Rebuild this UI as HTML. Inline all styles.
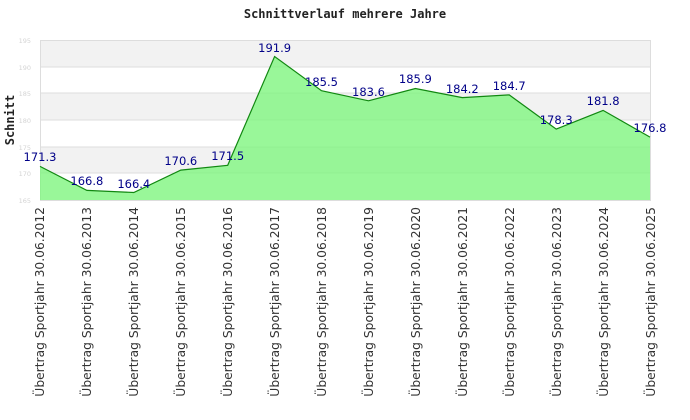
<!DOCTYPE html><html><head><style>body{margin:0;background:#fff}svg{display:block}</style></head><body>
<svg width="690" height="420" xmlns="http://www.w3.org/2000/svg">
<text x="345" y="18" text-anchor="middle" font-family="DejaVu Sans Mono, Liberation Mono, monospace" font-weight="bold" font-size="12" fill="#222">Schnittverlauf mehrere Jahre</text>
<rect x="40" y="40" width="610" height="27" fill="#f2f2f2"/>
<rect x="40" y="93" width="610" height="27" fill="#f2f2f2"/>
<rect x="40" y="147" width="610" height="26" fill="#f2f2f2"/>
<g stroke="#ddd" stroke-width="1">
<line x1="40" y1="67" x2="650" y2="67"/><line x1="40" y1="93" x2="650" y2="93"/><line x1="40" y1="120" x2="650" y2="120"/><line x1="40" y1="147" x2="650" y2="147"/><line x1="40" y1="173" x2="650" y2="173"/>
</g>
<rect x="40.5" y="40.5" width="610" height="160" fill="none" stroke="#ddd"/>
<g font-family="DejaVu Sans, sans-serif" font-size="6.5" fill="#d4d4d4" text-anchor="end">
<text x="31" y="43">195</text><text x="31" y="70">190</text><text x="31" y="96">185</text><text x="31" y="123">180</text><text x="31" y="150">175</text><text x="31" y="176">170</text><text x="31" y="203">165</text>
</g>
<polygon points="40,200 40,166.4 86.9,190.4 133.8,192.5 180.8,170.1 227.7,165.3 274.6,56.5 321.5,90.7 368.5,100.8 415.4,88.5 462.3,97.6 509.2,94.9 556.2,129.1 603.1,110.4 650,137.1 650,200" fill="#7ff57f" fill-opacity="0.8"/>
<polyline points="40,166.4 86.9,190.4 133.8,192.5 180.8,170.1 227.7,165.3 274.6,56.5 321.5,90.7 368.5,100.8 415.4,88.5 462.3,97.6 509.2,94.9 556.2,129.1 603.1,110.4 650,137.1" fill="none" stroke="#118811" stroke-width="1.2"/>
<g font-family="DejaVu Sans, sans-serif" font-size="11.5" fill="#000088" text-anchor="middle">
<text x="40" y="161">171.3</text><text x="86.9" y="185">166.8</text><text x="133.8" y="188">166.4</text><text x="180.8" y="165">170.6</text><text x="227.7" y="160">171.5</text><text x="274.6" y="52">191.9</text><text x="321.5" y="86">185.5</text><text x="368.5" y="96">183.6</text><text x="415.4" y="83">185.9</text><text x="462.3" y="93">184.2</text><text x="509.2" y="90">184.7</text><text x="556.2" y="124">178.3</text><text x="603.1" y="105">181.8</text><text x="650" y="132">176.8</text>
</g>
<text transform="translate(14,120) rotate(-90)" text-anchor="middle" font-family="DejaVu Sans Mono, Liberation Mono, monospace" font-weight="bold" font-size="12" fill="#222">Schnitt</text>
<g font-family="DejaVu Sans, sans-serif" font-size="12.3" fill="#333" text-anchor="end">
<text transform="translate(44,207) rotate(-90)">Übertrag Sportjahr 30.06.2012</text>
<text transform="translate(91,207) rotate(-90)">Übertrag Sportjahr 30.06.2013</text>
<text transform="translate(138,207) rotate(-90)">Übertrag Sportjahr 30.06.2014</text>
<text transform="translate(185,207) rotate(-90)">Übertrag Sportjahr 30.06.2015</text>
<text transform="translate(232,207) rotate(-90)">Übertrag Sportjahr 30.06.2016</text>
<text transform="translate(279,207) rotate(-90)">Übertrag Sportjahr 30.06.2017</text>
<text transform="translate(326,207) rotate(-90)">Übertrag Sportjahr 30.06.2018</text>
<text transform="translate(373,207) rotate(-90)">Übertrag Sportjahr 30.06.2019</text>
<text transform="translate(420,207) rotate(-90)">Übertrag Sportjahr 30.06.2020</text>
<text transform="translate(467,207) rotate(-90)">Übertrag Sportjahr 30.06.2021</text>
<text transform="translate(514,207) rotate(-90)">Übertrag Sportjahr 30.06.2022</text>
<text transform="translate(561,207) rotate(-90)">Übertrag Sportjahr 30.06.2023</text>
<text transform="translate(608,207) rotate(-90)">Übertrag Sportjahr 30.06.2024</text>
<text transform="translate(655,207) rotate(-90)">Übertrag Sportjahr 30.06.2025</text>
</g>
</svg></body></html>
